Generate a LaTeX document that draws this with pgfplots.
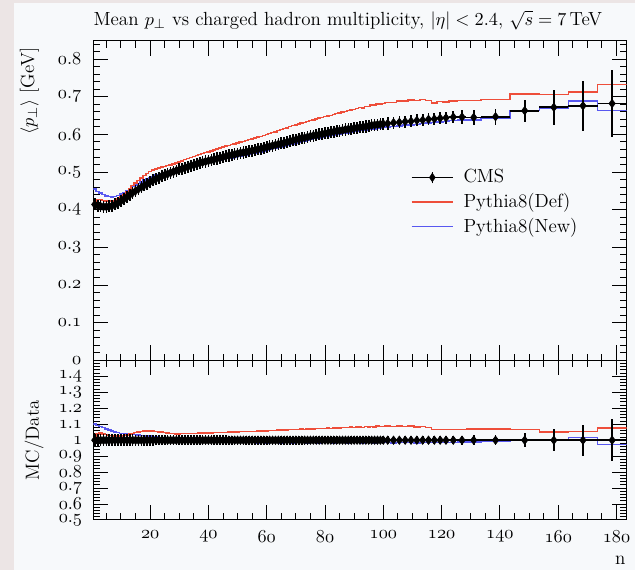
\documentclass[border=0pt]{standalone}
\usepackage{pgfplots}
\usepackage{pgfplotstable}
\pgfplotsset{compat=1.18}
\definecolor{bgpink}{RGB}{236,229,229}
\definecolor{bgpanel}{RGB}{247,249,251}
\definecolor{mcred}{RGB}{238,78,58}
\definecolor{mcblue}{RGB}{88,88,240}

\pgfplotstableread{
lo n ex cms e r b
0.5 1 0.5 0.414 0.016 1.015 1.100
1.5 2 0.5 0.411 0.016 1.040 1.092
2.5 3 0.5 0.409 0.016 1.045 1.085
3.5 4 0.5 0.408 0.016 1.040 1.078
4.5 5 0.5 0.408 0.016 1.036 1.070
5.5 6 0.5 0.409 0.016 1.031 1.063
6.5 7 0.5 0.411 0.016 1.029 1.057
7.5 8 0.5 0.414 0.016 1.026 1.052
8.5 9 0.5 0.418 0.016 1.024 1.047
9.5 10 0.5 0.423 0.016 1.025 1.043
10.5 11 0.5 0.428 0.016 1.028 1.041
11.5 12 0.5 0.433 0.016 1.033 1.039
12.5 13 0.5 0.439 0.016 1.038 1.038
13.5 14 0.5 0.445 0.016 1.043 1.036
14.5 15 0.5 0.450 0.016 1.047 1.035
15.5 16 0.5 0.455 0.016 1.051 1.033
16.5 17 0.5 0.460 0.016 1.054 1.031
17.5 18 0.5 0.465 0.016 1.057 1.029
18.5 19 0.5 0.469 0.016 1.058 1.027
19.5 20 0.5 0.474 0.016 1.058 1.025
20.5 21 0.5 0.478 0.016 1.057 1.022
21.5 22 0.5 0.482 0.016 1.055 1.020
22.5 23 0.5 0.485 0.016 1.052 1.017
23.5 24 0.5 0.489 0.016 1.050 1.015
24.5 25 0.5 0.492 0.016 1.047 1.012
25.5 26 0.5 0.495 0.016 1.045 1.010
26.5 27 0.5 0.498 0.016 1.043 1.008
27.5 28 0.5 0.501 0.016 1.041 1.006
28.5 29 0.5 0.504 0.016 1.040 1.004
29.5 30 0.5 0.507 0.016 1.040 1.002
30.5 31 0.5 0.509 0.016 1.041 1.000
31.5 32 0.5 0.512 0.016 1.041 0.999
32.5 33 0.5 0.514 0.016 1.042 0.998
33.5 34 0.5 0.517 0.016 1.042 0.997
34.5 35 0.5 0.519 0.016 1.043 0.996
35.5 36 0.5 0.521 0.016 1.043 0.995
36.5 37 0.5 0.524 0.016 1.044 0.994
37.5 38 0.5 0.526 0.016 1.044 0.993
38.5 39 0.5 0.528 0.016 1.045 0.993
39.5 40 0.5 0.530 0.016 1.045 0.992
40.5 41 0.5 0.532 0.016 1.046 0.991
41.5 42 0.5 0.534 0.016 1.047 0.990
42.5 43 0.5 0.536 0.016 1.047 0.990
43.5 44 0.5 0.538 0.016 1.048 0.989
44.5 45 0.5 0.540 0.016 1.049 0.989
45.5 46 0.5 0.542 0.016 1.049 0.988
46.5 47 0.5 0.544 0.016 1.050 0.988
47.5 48 0.5 0.545 0.016 1.051 0.987
48.5 49 0.5 0.547 0.016 1.051 0.987
49.5 50 0.5 0.549 0.016 1.052 0.986
50.5 51 0.5 0.551 0.016 1.053 0.986
51.5 52 0.5 0.552 0.016 1.053 0.986
52.5 53 0.5 0.554 0.016 1.054 0.985
53.5 54 0.5 0.556 0.016 1.055 0.985
54.5 55 0.5 0.557 0.016 1.056 0.985
55.5 56 0.5 0.559 0.016 1.056 0.985
56.5 57 0.5 0.561 0.016 1.057 0.984
57.5 58 0.5 0.562 0.016 1.058 0.985
58.5 59 0.5 0.564 0.016 1.059 0.985
59.5 60 0.5 0.566 0.016 1.059 0.984
60.5 61 0.5 0.568 0.016 1.061 0.985
61.5 62 0.5 0.570 0.016 1.062 0.986
62.5 63 0.5 0.572 0.016 1.061 0.985
63.5 64 0.5 0.574 0.016 1.063 0.985
64.5 65 0.5 0.576 0.016 1.064 0.984
65.5 66 0.5 0.578 0.016 1.065 0.985
66.5 67 0.5 0.580 0.016 1.064 0.986
67.5 68 0.5 0.582 0.016 1.066 0.985
68.5 69 0.5 0.584 0.016 1.067 0.984
69.5 70 0.5 0.586 0.016 1.066 0.985
70.5 71 0.5 0.588 0.016 1.068 0.985
71.5 72 0.5 0.590 0.016 1.069 0.986
72.5 73 0.5 0.591 0.016 1.068 0.985
73.5 74 0.5 0.593 0.016 1.070 0.984
74.5 75 0.5 0.595 0.016 1.071 0.985
75.5 76 0.5 0.597 0.016 1.070 0.986
76.5 77 0.5 0.598 0.016 1.072 0.985
77.5 78 0.5 0.600 0.016 1.073 0.984
78.5 79 0.5 0.601 0.016 1.072 0.985
79.5 80 0.5 0.603 0.016 1.074 0.985
80.5 81 0.5 0.604 0.016 1.075 0.986
81.5 82 0.5 0.606 0.016 1.074 0.985
82.5 83 0.5 0.607 0.016 1.076 0.984
83.5 84 0.5 0.609 0.016 1.077 0.985
84.5 85 0.5 0.610 0.016 1.076 0.985
85.5 86 0.5 0.611 0.016 1.079 0.986
86.5 87 0.5 0.613 0.016 1.078 0.985
87.5 88 0.5 0.614 0.016 1.080 0.984
88.5 89 0.5 0.615 0.016 1.082 0.985
89.5 90 0.5 0.617 0.016 1.079 0.985
90.5 91 0.5 0.618 0.016 1.082 0.986
91.5 92 0.5 0.619 0.016 1.084 0.985
92.5 93 0.5 0.620 0.016 1.081 0.984
93.5 94 0.5 0.621 0.016 1.085 0.985
94.5 95 0.5 0.622 0.016 1.083 0.986
95.5 96 0.5 0.624 0.016 1.086 0.985
96.5 97 0.5 0.625 0.016 1.084 0.984
97.5 98 0.5 0.626 0.016 1.088 0.985
98.5 99 0.5 0.627 0.016 1.085 0.985
99.5 100 0.5 0.628 0.016 1.087 0.985
100.5 101.5 1 0.629 0.016 1.088 0.985
102.5 103.5 1 0.631 0.016 1.085 0.984
104.5 105.5 1 0.632 0.016 1.089 0.985
106.5 107.5 1 0.634 0.016 1.086 0.986
108.5 109.5 1 0.635 0.016 1.088 0.985
110.5 111.5 1 0.637 0.016 1.083 0.984
112.5 113.5 1 0.638 0.016 1.086 0.985
114.5 115.5 1 0.640 0.016 1.078 0.985
116.5 117.5 1 0.641 0.016 1.067 0.986
118.5 119.5 1 0.643 0.016 1.068 0.985
120.5 121.5 1 0.644 0.016 1.066 0.985
122.5 124 1.5 0.646 0.017 1.067 0.986
125.5 127 1.5 0.646 0.018 1.068 0.988
128.5 131 2.5 0.645 0.019 1.070 0.990
133.5 138.5 5 0.647 0.021 1.070 0.995
143.5 148.5 5 0.663 0.029 1.066 1.000
153.5 158.5 5 0.672 0.046 1.050 0.998
163.5 168.5 5 0.676 0.066 1.055 1.018
173.5 178.5 5 0.682 0.090 1.075 0.973
183.5 183.5 0 0.682 0.090 1.075 0.973
}\data

\pgfplotsset{
  rivet/.style={
    scale only axis, width=320.04pt,
    xmin=0.5, xmax=183.5,
    tick align=inside, xtick pos=both, ytick pos=both,
    xticklabel pos=lower, yticklabel pos=left,
    major tick length=9pt, minor tick length=4pt,
    every tick/.style={black, line width=0.6pt},
    axis line style={line width=0.6pt},
    xtick={20,40,60,80,100,120,140,160,180},
    minor xtick={5,10,...,180},
    yticklabel style={xshift=-3.2pt},
    xticklabel style={yshift=-2.5pt},
  },
  cmsstyle/.style={black, only marks, mark=diamond*, mark size=2.5pt,
    error bars/x dir=both, error bars/x explicit,
    error bars/y dir=both, error bars/y explicit,
    error bars/error mark=none,
    error bars/error bar style={line width=1pt, black}},
}

\begin{document}
\fontsize{11.4pt}{13.7pt}\selectfont
\begin{tikzpicture}
\path[use as bounding box] (0,0) rectangle (381pt,-342pt);
\fill[bgpink] (0,0) rectangle (381pt,-342pt);
\fill[bgpanel] (8.4pt,-1.8pt) rectangle (381pt,-342pt);
\node[anchor=base west, inner sep=0pt] at (55.98pt,-15.2pt) {Mean $p_\perp$ vs charged hadron multiplicity, $|\eta| < 2.4$, $\sqrt{s} = 7\,$TeV};

\begin{axis}[rivet,
  at={(55.98pt,-24.6pt)}, anchor=north west, height=191.64pt,
  ymin=0, ymax=0.848,
  ytick={0,0.1,0.2,0.3,0.4,0.5,0.6,0.7,0.8},
  yticklabels={$\mathnormal{0}$,$\mathnormal{0.1}$,$\mathnormal{0.2}$,$\mathnormal{0.3}$,$\mathnormal{0.4}$,$\mathnormal{0.5}$,$\mathnormal{0.6}$,$\mathnormal{0.7}$,$\mathnormal{0.8}$},
  minor ytick={0.02,0.04,...,0.845},
  xticklabels={},
  ylabel={$\langle p_\perp \rangle$ [GeV]},
  ylabel style={at={(axis description cs:-0.111,1)}, anchor=base east},
  legend style={at={(axis description cs:0.585,0.62)}, anchor=north west, draw=none, fill=none, row sep=0.6pt},
  legend cell align=left,
]
\addlegendimage{legend image code/.code={
  \draw[black, line width=1pt] (0pt,0pt) -- (25pt,0pt);
  \draw[black, line width=1pt] (12.5pt,-3.5pt) -- (12.5pt,3.5pt);
  \fill[black] (12.5pt,2.5pt) -- (14.2pt,0pt) -- (12.5pt,-2.5pt) -- (10.8pt,0pt) -- cycle;
  \path (29pt,0pt);}}
\addlegendentry{CMS}
\addlegendimage{legend image code/.code={\draw[mcred, line width=0.9pt] (0pt,0pt) -- (25pt,0pt); \path (29pt,0pt);}}
\addlegendentry{Pythia8(Def)}
\addlegendimage{legend image code/.code={\draw[mcblue, line width=0.9pt] (0pt,0pt) -- (25pt,0pt); \path (29pt,0pt);}}
\addlegendentry{Pythia8(New)}

\addplot[mcblue, const plot, line width=0.9pt, forget plot] table[x=lo, y expr=\thisrow{cms}*\thisrow{b}] {\data};
\addplot[mcred, const plot, line width=0.9pt, forget plot] table[x=lo, y expr=\thisrow{cms}*\thisrow{r}] {\data};
\addplot[forget plot, skip coords between index={119}{120}, cmsstyle] table[x=n, y=cms, x error=ex, y error=e] {\data};
\end{axis}

\begin{axis}[rivet,
  at={(55.98pt,-216.24pt)}, anchor=north west, height=95.76pt,
  ymin=0.5, ymax=1.5,
  ytick={0.5,0.6,0.7,0.8,0.9,1,1.1,1.2,1.3,1.4},
  yticklabels={$\mathnormal{0.5}$,$\mathnormal{0.6}$,$\mathnormal{0.7}$,$\mathnormal{0.8}$,$\mathnormal{0.9}$,$\mathnormal{1}$,$\mathnormal{1.1}$,$\mathnormal{1.2}$,$\mathnormal{1.3}$,$\mathnormal{1.4}$},
  yticklabel style={inner sep=0pt, xshift=-3.3pt},
  minor ytick={0.52,0.54,...,1.49},
  xticklabels={$\mathnormal{20}$,$\mathnormal{40}$,$\mathnormal{60}$,$\mathnormal{80}$,$\mathnormal{100}$,$\mathnormal{120}$,$\mathnormal{140}$,$\mathnormal{160}$,$\mathnormal{180}$},
  ylabel={MC/Data},
  ylabel style={at={(axis description cs:-0.102,0.5)}, anchor=base},
  xlabel={n},
  xlabel style={at={(axis description cs:1,0)}, anchor=north east, xshift=3.3pt, yshift=-17.7pt},
]
\addplot[mcblue, const plot, line width=0.9pt] table[x=lo, y=b] {\data};
\addplot[mcred, const plot, line width=0.9pt] table[x=lo, y=r] {\data};
\addplot[skip coords between index={119}{120}, cmsstyle] table[x=n, y expr=1, x error=ex, y error expr=\thisrow{e}/\thisrow{cms}] {\data};
\end{axis}
\end{tikzpicture}
\end{document}
